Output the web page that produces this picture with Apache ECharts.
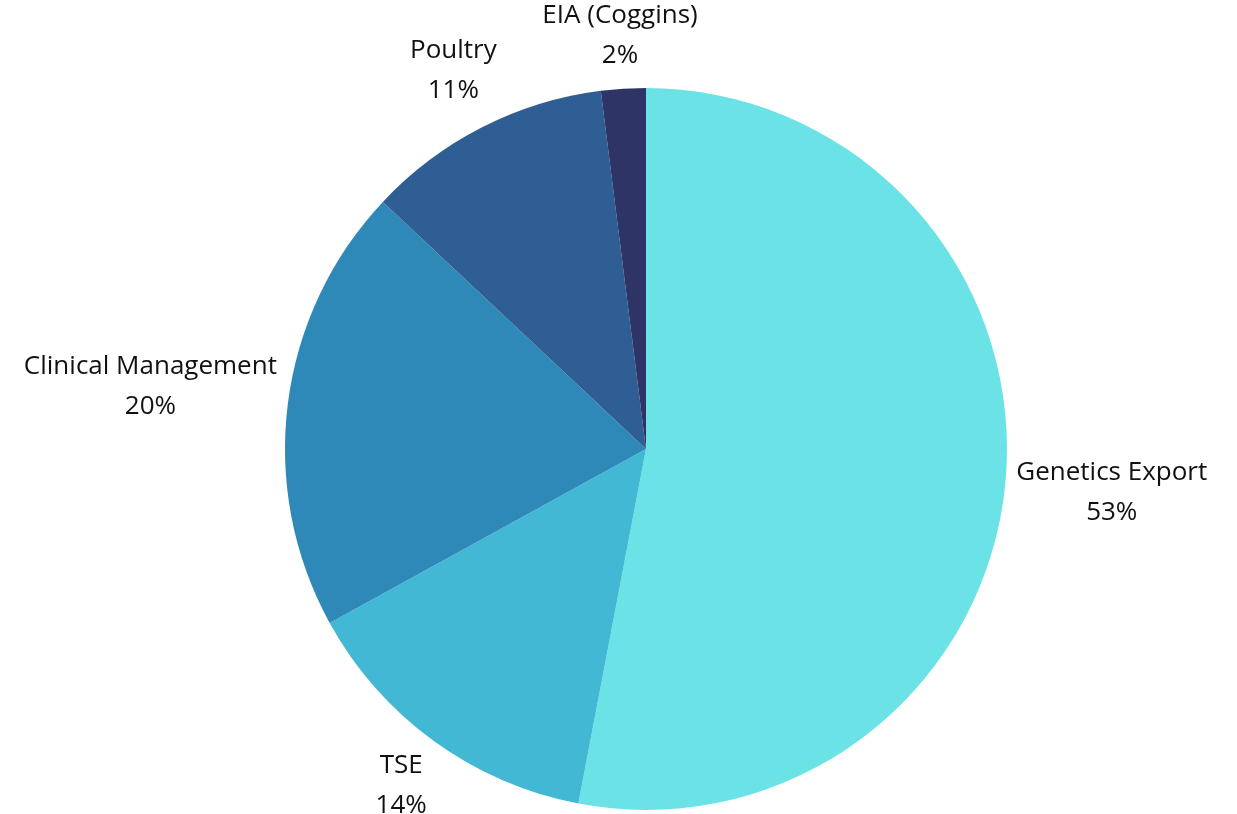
<!DOCTYPE html>
<html>
<head>
<meta charset="utf-8">
<script src="https://cdn.jsdelivr.net/npm/echarts@6/dist/echarts.min.js"></script>
<style>html,body{margin:0;padding:0;background:#fff;}#c{width:1237px;height:814px;}</style>
</head>
<body>
<div id="c"></div>
<script>
const categories = ['Genetics Export', 'TSE', 'Clinical Management', 'Poultry', 'EIA (Coggins)'];
const values = [53, 14, 20, 11, 2];
const colors = ['#6be3e6', '#43b8d5', '#2e89b8', '#2e5e94', '#2e3466'];

const CX = 646, CY = 449, R = 361, GAP = 8;
const total = values.reduce((a, b) => a + b, 0);
const midAngles = [];
let acc = 0;
values.forEach(v => { midAngles.push((acc + v / 2) / total * 2 * Math.PI); acc += v; });

const chart = echarts.init(document.getElementById('c'));
chart.setOption({
  backgroundColor: '#fff',
  animation: false,
  series: [{
    type: 'pie',
    center: [CX, CY],
    radius: R,
    startAngle: 90,
    clockwise: true,
    data: categories.map((n, i) => ({ name: n, value: values[i], itemStyle: { color: colors[i] } })),
    label: {
      show: true,
      position: 'outside',
      formatter: '{b}\n{d}%',
      fontFamily: 'Open Sans',
      fontSize: 26,
      lineHeight: 40,
      color: '#111111',
      align: 'center'
    },
    labelLine: { show: false, length: 5, length2: 5 },
    labelLayout: function (p) {
      const a = midAngles[p.dataIndex];
      const dx = Math.sin(a), dy = -Math.cos(a);
      const w = p.labelRect.width, h = p.labelRect.height;
      const ext = Math.abs(dx) * w / 2 + Math.abs(dy) * h / 2;
      const d = R + GAP + ext;
      return { x: CX + d * dx, y: CY + d * dy, align: 'center', verticalAlign: 'middle' };
    }
  }]
});
</script>
</body>
</html>
